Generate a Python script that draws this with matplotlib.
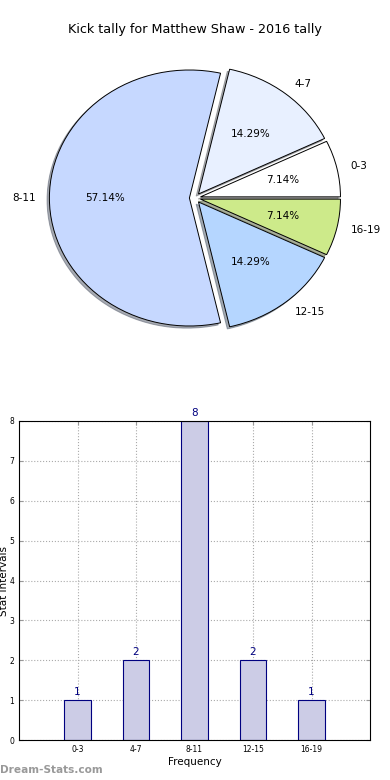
import matplotlib
matplotlib.use("Agg")
import matplotlib.pyplot as plt

# data
intervals = ["0-3", "4-7", "8-11", "12-15", "16-19"]
kicks = [1, 2, 8, 2, 1]
pie_colors = ["#ffffff", "#e8f0ff", "#c6d8ff", "#b5d6ff", "#cdea8a"]
title = "Kick tally for Matthew Shaw - 2016 tally"

fig = plt.figure(figsize=(3.9, 7.8), dpi=100)

# pie chart (elliptical, like the old default)
ax1 = fig.add_axes([20 / 390, 1 - 358 / 780, 350 / 390, 320 / 780])
wedges, texts, autotexts = ax1.pie(
    kicks, labels=intervals, colors=pie_colors, autopct="%.2f%%",
    explode=[0.04] * len(kicks), shadow={"ox": -0.012, "oy": -0.012, "shade": 0.6},
    startangle=0,
    wedgeprops={"edgecolor": "black", "linewidth": 0.7},
    textprops={"fontsize": 7.5},
)
ax1.set_aspect("auto")
ax1.set_xlim(-1.25, 1.25)
ax1.set_ylim(-1.25, 1.25)
fig.text(0.5, 1 - 30 / 780, title, ha="center", va="center", fontsize=9.2)

# bar chart
ax2 = fig.add_axes([19 / 390, 40 / 780, 351 / 390, 319 / 780])
x = list(range(len(intervals)))
bars = ax2.bar(x, kicks, width=0.45, color="#ccccE6", edgecolor="#000080", linewidth=0.8, zorder=2)
for xi, k in zip(x, kicks):
    ax2.text(xi, k + 0.07, str(k), ha="center", va="bottom", color="#000080", fontsize=7.5)
ax2.set_xlim(-1, 5)
ax2.set_ylim(0, 8)
ax2.set_xticks(x)
ax2.set_xticklabels(intervals)
ax2.set_yticks(range(0, 9))
ax2.tick_params(labelsize=5.5, direction="in", top=True, right=True, length=3, color="#999999")
ax2.grid(True, linestyle=":", color="#aaaaaa", linewidth=0.8, zorder=0)
ax2.set_xlabel("Frequency", fontsize=7.5, labelpad=2)
ax2.set_ylabel("Stat Intervals", fontsize=7.5, labelpad=0.5)

fig.text(0.0, 1 - 770 / 780, "Dream-Stats.com", ha="left", va="center",
         fontsize=7.6, color="#999999", fontweight="bold")

fig.savefig("out.png", dpi=100)
